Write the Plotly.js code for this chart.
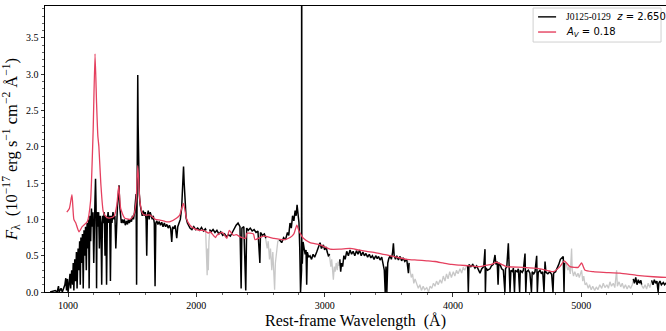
<!DOCTYPE html>
<html>
<head>
<meta charset="utf-8">
<script src="https://cdn.plot.ly/plotly-3.0.1.min.js"></script>
<style>html,body{margin:0;padding:0;background:#fff}#chart{width:666px;height:331px}</style>
</head>
<body>
<div id="chart"></div>
<script>
// Observed spectrum (unmasked pixels, black); null = masked gap
const obsWave = [
860,900,915,925,930,945,955,975,982,988,995,1000,1008,1015,1020,1028,1035,1040,1045,1052,1058,1065,1070,1078,1084,1090,1095,1100,1106,1112,1118,1124,1130,1136,1142,1148,1155,1160,1164,1170,1176,1182,1188,1194,1200,1205,1210,1214,1218,1222,1226,1232,1238,1244,1250,1256,1262,1268,1275,1282,1288,1294,1300,1306,1312,1318,1324,1330,1336,1342,1350,1358,1365,1372,1378,1385,1392,1397,1402,1408,1415,1422,1430,1438,1446,1455,1463,1470,1478,1486,1494,1502,1510,1518,1524,1530,1534,1537,1540,1543,1546,1550,1555,1562,1570,1578,1586,1594,1602,1608,1613,1618,1625,1632,1640,1648,1656,1664,1672,1678,1684,1692,1700,1710,1720,1730,1740,1750,1760,1770,1780,1790,1800,1808,1815,1825,1835,1847,1855,1865,1875,1885,1893,1900,1905,1912,1920,1930,1940,1950,1965,1980,1995,2010,2025,2040,2055,2070,2076,
2078,
2102,2115,2130,2145,2160,2175,2190,2205,2220,2235,2250,2265,2280,2295,2310,2325,2340,2349,2355,2370,2385,2392,2405,2420,2435,2450,2465,2480,2495,2500,2515,2530,2542,
2545,
2648,2665,2680,2695,2710,2720,2730,2740,2750,2760,2770,2778,2785,2792,2800,2806,2812,2820,2821,2822,2826,2832,2840,2848,2855,2860,2865,2875,2886,2898,2910,2922,2938,2950,2964,2975,2990,3000,3012,3020,3029,3040,
3042,
3118,3125,3132,3140,3150,3160,3172,3185,3198,3210,3222,3235,3248,3260,3272,3285,3298,3310,3322,3335,3348,3360,3372,3385,3398,3410,3420,3432,3445,3455,3465,3472,3478,3485,3492,3500,3510,3520,3530,3536,3542,3552,3562,3575,3588,3600,3612,3625,3640,3653,3658,
3660,
4115,4120,4125,4140,4155,4172,4185,4200,4211,4225,4240,4250,4253,4258,4270,4289,4300,4315,4328,4335,4345,4352,4358,4367,4380,4393,4405,4410,4420,4432,4438,4445,4452,4465,4471,4480,4486,4500,4510,4520,4525,4540,4549,4562,4568,4575,4588,4600,4612,4618,4630,4640,4653,4658,4665,4679,4690,4700,4710,4718,4725,4740,4755,4770,4780,4785,4800,4812,4825,4838,4850,4860,4866,4870,
4872,
5406,5415,5425,5435,5445,5455,5465,5471,
5473,
5549,5560,5570,5580,5590,5600,5605,5614,5625,5640,5650,5661,5670
];
const obsFlux = [
0,0.02,0.0,0.08,0.0,0.05,0.0,0.1,0.19,0.02,0.18,0.0,0.12,0.25,0.05,0.3,0.1,0.4,0.02,0.45,0.15,0.55,0.05,0.6,0.3,0.7,0.1,0.75,0.4,0.8,0.05,0.85,0.5,0.9,0.3,0.95,0.6,1.0,0.05,1.05,0.7,1.15,0.9,1.1,0.4,1.15,1.3,1.56,1.2,0.05,1.1,0.9,1.1,0.6,1.05,0.95,0.1,1.05,0.95,1.1,0.5,1.05,0.1,1.0,1.1,0.95,1.05,0.15,1.05,0.95,1.1,1.0,1.05,0.6,1.1,1.2,1.35,1.47,1.2,1.05,0.95,1.0,0.95,1.0,0.92,0.98,0.93,1.0,0.95,1.0,0.97,1.05,1.0,1.1,1.2,1.35,0.1,1.5,2.05,2.99,2.3,1.7,1.35,1.2,1.1,1.05,1.12,1.05,1.1,1.0,0.5,1.05,1.12,1.0,1.1,1.05,1.0,1.05,0.95,0.08,0.95,0.98,0.93,0.97,0.92,0.96,0.9,0.95,0.9,0.93,0.88,0.92,0.87,0.69,0.9,0.87,0.92,0.74,0.9,0.95,1.0,1.15,1.4,1.73,1.5,1.2,1.02,0.95,0.9,0.88,0.86,0.9,0.86,0.88,0.85,0.89,0.84,0.87,0.85,
null,
0.86,0.83,0.86,0.82,0.85,0.8,0.83,0.78,0.8,0.76,0.79,0.77,0.82,0.88,0.92,0.95,0.9,0.05,0.88,0.9,0.02,0.88,0.85,0.88,0.84,0.86,0.82,0.84,0.4,0.82,0.78,0.8,0.74,
null,
0.72,0.68,0.75,0.72,0.82,0.78,0.95,0.88,1.05,0.98,1.12,1.05,1.2,1.1,0.95,0.6,0.0,0.3,8.0,0.4,0.4,0.69,0.6,0.52,0.58,0.1,0.55,0.48,0.5,0.45,0.52,0.48,0.55,0.62,0.68,0.6,0.65,0.58,0.62,0.55,0.5,0.52,
null,
0.45,0.28,0.4,0.35,0.5,0.45,0.56,0.5,0.58,0.52,0.56,0.5,0.57,0.52,0.58,0.5,0.55,0.5,0.53,0.48,0.52,0.47,0.5,0.45,0.5,0.46,0.49,0.44,0.48,0.4,0.3,0.0,0.35,0.0,0.4,0.46,0.5,0.45,0.55,0.67,0.5,0.45,0.5,0.44,0.49,0.43,0.47,0.42,0.45,0.26,0.4,
null,
0.37,0.0,0.38,0.35,0.38,0.33,0.36,0.3,0.26,0.32,0.35,0.59,0.0,0.33,0.3,0.32,0.36,0.38,0.51,0.38,0.42,0.1,0.4,0.38,0.32,0.3,0.0,0.32,0.35,0.67,0.3,0.0,0.3,0.28,0.33,0.0,0.3,0.28,0.32,0.0,0.3,0.27,0.3,0.53,0.0,0.28,0.3,0.26,0.0,0.28,0.25,0.28,0.5,0.0,0.27,0.3,0.25,0.28,0.0,0.42,0.27,0.25,0.28,0.24,0.0,0.26,0.28,0.32,0.38,0.45,0.48,0.49,0.0,0.4,
null,
0.18,0.12,0.2,0.1,0.17,0.12,0.16,0.1,
null,
0.16,0.1,0.17,0.12,0.15,0.0,0.12,0.15,0.1,0.13,0.1,0.12,0.11
];

// Masked pixels (grey)
const maskWave = [
2072,2080,2084,2088,2093,2098,2105,
2106,
2538,2552,2560,2570,2578,2588,2596,2604,2610,2616,2625,2635,2650,
2652,
3036,3048,3055,3062,3068,3075,3082,3090,3098,3105,3112,3120,
3122,
3655,3665,3675,3685,3695,3705,3718,3730,3742,3755,3768,3780,3796,3810,3822,3835,3848,3860,3872,3885,3900,3912,3925,3938,3950,3962,3975,3988,4003,4015,4028,4040,4055,4068,4080,4092,4105,4117,
4119,
4866,4875,4886,4895,4905,4915,4925,4930,4940,4950,4964,4975,4985,5003,5012,5020,5030,5042,5055,5065,5078,5090,5105,5118,5130,5145,5160,5172,5185,5200,5212,5224,5236,5250,5262,5276,5282,5295,5308,5320,5332,5345,5358,5370,5385,5398,5408,
5410,
5469,5485,5498,5510,5522,5535,5551
];
const maskFlux = [
0.86,0.5,0.23,0.6,0.3,0.7,0.85,
null,
0.76,0.6,0.7,0.45,0.6,0.3,0.55,0.2,0.03,0.4,0.6,0.7,0.72,
null,
0.53,0.35,0.45,0.25,0.17,0.35,0.28,0.4,0.3,0.42,0.36,0.45,
null,
0.42,0.3,0.2,0.25,0.12,0.18,0.12,0.05,0.1,0.02,0.08,0.03,0.06,0.0,0.08,0.05,0.12,0.08,0.15,0.1,0.17,0.12,0.22,0.15,0.25,0.18,0.28,0.2,0.28,0.22,0.3,0.25,0.32,0.26,0.34,0.3,0.35,0.37,
null,
0.4,0.42,0.37,0.3,0.35,0.25,0.6,0.3,0.22,0.28,0.21,0.26,0.2,0.3,0.15,0.22,0.1,0.12,0.05,0.1,0.03,0.08,0.02,0.07,0.03,0.1,0.05,0.12,0.06,0.1,0.05,0.14,0.08,0.12,0.06,0.3,0.08,0.14,0.07,0.12,0.05,0.1,0.04,0.09,0.05,0.1,0.18,
null,
0.1,0.05,0.1,0.04,0.12,0.06,0.16
];

// Reddened composite model, A_V = 0.18
const modelWave = [
990,1010,1030,1045,1060,1085,1110,1150,1175,1195,1210,1222,1232,1240,1255,1275,1300,1330,1360,1380,1395,1410,1440,1480,1510,1530,1543,1560,1580,1600,1640,1680,1717,1760,1795,1847,1870,1899,1925,1950,1977,2024,2054,2096,2107,2149,2159,2203,2237,2257,2289,2311,2341,2385,2393,2445,2457,2523,2601,2679,2731,2760,2783,2800,2822,2834,2886,2964,3042,3120,3198,3260,3328,3400,3484,3560,3640,3720,3796,3860,3923,3990,4055,4133,4211,4263,4300,4341,4380,4419,4549,4679,4782,4834,4868,4912,4977,5003,5030,5094,5172,5302,5432,5562,5670
];
const modelFlux = [
1.10,1.15,1.34,1.00,0.95,0.83,0.90,0.97,1.25,2.2,3.28,2.6,2.15,2.0,1.5,1.1,1.03,1.02,1.05,1.2,1.46,1.15,1.02,1.00,1.05,1.25,1.74,1.25,1.08,1.06,1.06,1.0,0.99,0.97,0.97,1.02,1.06,1.22,1.0,0.92,0.88,0.85,0.85,0.81,0.83,0.75,0.78,0.82,0.74,0.85,0.78,0.79,0.76,0.74,0.81,0.80,0.72,0.77,0.74,0.72,0.75,0.80,0.92,0.84,0.77,0.74,0.68,0.65,0.59,0.59,0.60,0.58,0.56,0.54,0.51,0.48,0.45,0.44,0.43,0.42,0.40,0.38,0.37,0.36,0.35,0.37,0.38,0.41,0.38,0.35,0.34,0.32,0.28,0.35,0.43,0.35,0.34,0.40,0.30,0.28,0.27,0.26,0.23,0.21,0.20
];

const legendLabels = ['<span style="font-family:Liberation Serif;font-size:9.5px">J0125-0129</span>  <i>z</i> = 2.650', '<i>A</i><sub><i>V</i></sub> = 0.18'];
const xTitle = 'Rest-frame Wavelength  (Å)';
const yTitle = '<i>F</i><sub>λ</sub>  (10<sup>−17</sup> erg s<sup>−1</sup> cm<sup>−2</sup> Å<sup>−1</sup>)';

const colObs = '#000000', colModel = '#e5405f', colMask = '#c8c8c8';

const traces = [
  {x: maskWave, y: maskFlux, type: 'scatter', mode: 'lines', line: {color: colMask, width: 1.3}, showlegend: false, connectgaps: false},
  {x: obsWave, y: obsFlux, type: 'scatter', mode: 'lines', line: {color: colObs, width: 1.5}, connectgaps: false, showlegend: false},
  {x: modelWave, y: modelFlux, type: 'scatter', mode: 'lines', line: {color: colModel, width: 1.3, shape: 'spline', smoothing: 0.5}, showlegend: false}
];

// Legend drawn by hand (paper coordinates of the plotting area)
const legX0 = 0.786, legX1 = 0.992, legY0 = 0.874, legY1 = 0.993;
const rowY = [0.962, 0.909];
const sampleX = [0.794, 0.823], textX = 0.836;
const legColors = [colObs, colModel];

const shapes = [
  {type: 'rect', xref: 'paper', yref: 'paper', x0: legX0, x1: legX1, y0: legY0, y1: legY1,
   line: {color: '#d0d0d0', width: 1}, fillcolor: 'rgba(255,255,255,0.85)', layer: 'above'}
];
const annotations = [];
legendLabels.forEach((lab, i) => {
  shapes.push({type: 'line', xref: 'paper', yref: 'paper', x0: sampleX[0], x1: sampleX[1], y0: rowY[i], y1: rowY[i],
               line: {color: legColors[i], width: 1.4}, layer: 'above'});
  annotations.push({xref: 'paper', yref: 'paper', x: textX, y: rowY[i], xanchor: 'left', yanchor: 'middle',
                    text: lab, showarrow: false, font: {family: 'DejaVu Sans', size: 10, color: '#000'}});
});

const layout = {
  width: 666, height: 331,
  margin: {l: 45, r: 0, t: 6, b: 39},
  paper_bgcolor: '#fff', plot_bgcolor: '#fff',
  font: {family: 'Liberation Serif', color: '#000', size: 10},
  showlegend: false,
  shapes: shapes,
  annotations: annotations,
  xaxis: {
    range: [820, 5661], showgrid: false, zeroline: false,
    showline: true, linecolor: '#000', linewidth: 1, mirror: true,
    ticks: 'outside', ticklen: 3.5, tickwidth: 0.8, tickcolor: '#000',
    tick0: 0, dtick: 1000,
    minor: {ticks: 'outside', dtick: 200, tick0: 0, ticklen: 2, tickwidth: 0.6, tickcolor: '#000', showgrid: false},
    tickfont: {family: 'Liberation Serif', size: 10},
    title: {text: xTitle, font: {family: 'Liberation Serif', size: 16}, standoff: 5}
  },
  yaxis: {
    range: [0, 3.94], showgrid: false, zeroline: false,
    showline: true, linecolor: '#000', linewidth: 1,
    ticks: 'outside', ticklen: 3.5, tickwidth: 0.8, tickcolor: '#000',
    tick0: 0, dtick: 0.5, tickformat: '.1f',
    minor: {ticks: 'outside', dtick: 0.1, tick0: 0, ticklen: 2, tickwidth: 0.6, tickcolor: '#000', showgrid: false},
    tickfont: {family: 'Liberation Serif', size: 10},
    title: {text: yTitle, font: {family: 'Liberation Serif', size: 16.5}, standoff: 4}
  }
};

Plotly.newPlot('chart', traces, layout, {displayModeBar: false, staticPlot: true});
</script>
</body>
</html>
